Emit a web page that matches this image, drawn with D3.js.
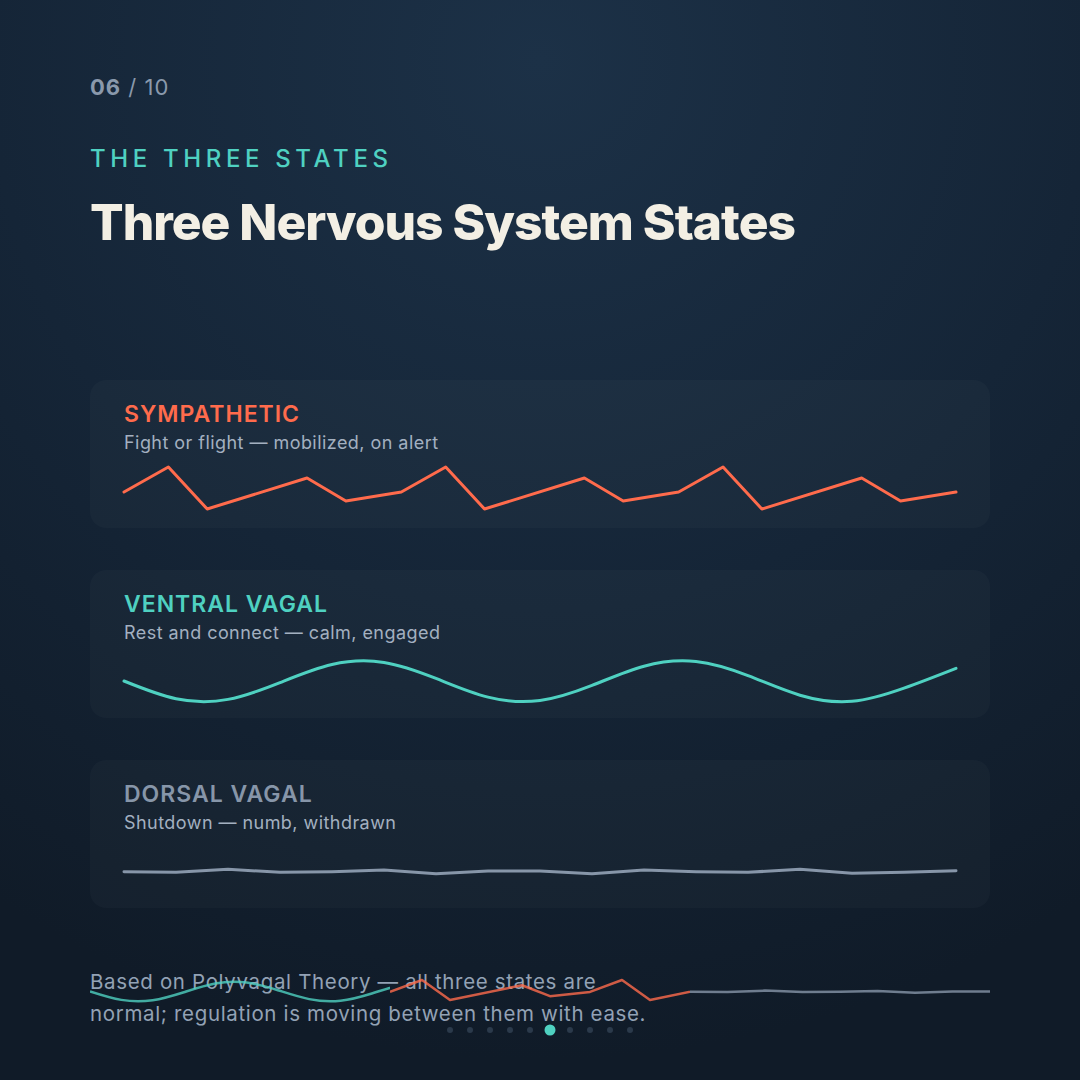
<!DOCTYPE html>
<html>
<head>
<meta charset="utf-8">
<script src="https://cdn.jsdelivr.net/npm/d3@7"></script>
<style>
	html, body { margin: 0; padding: 0; background: #121f2d; }
	svg { display: block; }
</style>
</head>
<body>
<svg id="chart" width="1080" height="1080"></svg>
<script>

// Slide content
var pageCurrent = '06';
var pageTotal = '10';
var kicker = 'THE THREE STATES';
var title = 'Three Nervous System States';
var footnote = ['Based on Polyvagal Theory — all three states are',
	'normal; regulation is moving between them with ease.'];

// The three states
var stateNames = ['SYMPATHETIC', 'VENTRAL VAGAL', 'DORSAL VAGAL'];
var stateNotes = ['Fight or flight — mobilized, on alert',
	'Rest and connect — calm, engaged',
	'Shutdown — numb, withdrawn'];
var stateColors = ['#ff6b4c', '#4fd1c1', '#8796a9'];

// Activation traces (0 - 50)
var sympatheticX = [0, 16, 30, 66, 80, 100, 116, 130, 166, 180, 200, 216, 230, 266, 280, 300];
var sympatheticValues = [23, 48, 6, 37, 14, 23, 48, 6, 37, 14, 23, 48, 6, 37, 14, 23];
var ventralValues = [24, 6.3, 5.6, 22.4, 40.5, 42.6, 26.6, 7.9, 4.5, 19.6, 38.8, 43.5, 29.4, 9.8, 3.7, 16.9, 36.7];
var dorsalValues = [23.3, 22.7, 25.7, 22.7, 23.3, 25, 21.3, 24, 24, 21.3, 25, 23.3, 22.7, 25.7, 21.7, 22.7, 24.3];

// Pager
var pages = [1, 2, 3, 4, 5, 6, 7, 8, 9, 10];
var activePage = 6;

var svg = d3.select('#chart');
var defs = svg.append('defs');

// Background
var bg = defs.append('radialGradient')
	.attr('id', 'bg')
	.attr('gradientUnits', 'userSpaceOnUse')
	.attr('cx', 540).attr('cy', 60).attr('r', 1000);
bg.append('stop').attr('offset', '0%').attr('stop-color', '#1c3147');
bg.append('stop').attr('offset', '55%').attr('stop-color', '#152537');
bg.append('stop').attr('offset', '100%').attr('stop-color', '#101b28');

svg.append('rect')
	.attr('width', 1080).attr('height', 1080)
	.attr('fill', 'url(#bg)');

// Header
var pager = svg.append('text')
	.attr('x', 90).attr('y', 95)
	.style('font-family', 'Inter, sans-serif')
	.style('font-size', '22px')
	.style('letter-spacing', '1px')
	.style('fill', '#8a99ac');
pager.append('tspan').style('font-weight', 700).text(pageCurrent);
pager.append('tspan').style('font-weight', 400).text(' / ' + pageTotal);

svg.append('text')
	.attr('x', 90).attr('y', 167)
	.attr('textLength', 302).attr('lengthAdjust', 'spacing')
	.style('font-family', 'Inter, sans-serif')
	.style('font-size', '24px')
	.style('font-weight', 500)
	.style('letter-spacing', '4px')
	.style('fill', '#4fd1c1')
	.text(kicker);

svg.append('text')
	.attr('x', 90).attr('y', 240)
	.attr('textLength', 705).attr('lengthAdjust', 'spacingAndGlyphs')
	.style('font-family', 'Inter, sans-serif')
	.style('font-size', '50px')
	.style('font-weight', 800)
	.style('letter-spacing', '-1px')
	.style('fill', '#f3efe4')
	.text(title);

// Cards
var cardTops = [380, 570, 760];
var series = [
	{ x: sympatheticX, y: sympatheticValues, curve: d3.curveLinear },
	{ x: d3.range(ventralValues.length), y: ventralValues, curve: d3.curveNatural },
	{ x: d3.range(dorsalValues.length), y: dorsalValues, curve: d3.curveLinear }
];

var cards = svg.selectAll('.card')
	.data(stateNames)
	.enter()
	.append('g')
	.attr('class', 'card')
	.attr('transform', function(d, i) { return 'translate(90,' + cardTops[i] + ')'; });

cards.append('rect')
	.attr('width', 900).attr('height', 148)
	.attr('rx', 16)
	.attr('fill', '#ffffff')
	.attr('fill-opacity', 0.025);

cards.append('text')
	.attr('x', 34).attr('y', 42)
	.style('font-family', 'Inter, sans-serif')
	.style('font-size', '23px')
	.style('font-weight', 600)
	.style('letter-spacing', '1px')
	.style('fill', function(d, i) { return stateColors[i]; })
	.text(function(d) { return d; });

cards.append('text')
	.attr('x', 34).attr('y', 69)
	.style('font-family', 'Inter, sans-serif')
	.style('font-size', '18px')
	.style('letter-spacing', '0.45px')
	.style('fill', '#a3b0c0')
	.text(function(d, i) { return stateNotes[i]; });

// Card traces
var cardY = d3.scaleLinear().domain([0, 50]).range([135, 85]);

cards.each(function(d, i) {
	var s = series[i];
	var x = d3.scaleLinear().domain(d3.extent(s.x)).range([34, 866]);
	var line = d3.line()
		.x(function(p) { return x(s.x[p]); })
		.y(function(p) { return cardY(s.y[p]); })
		.curve(s.curve);

	d3.select(this).append('path')
		.attr('d', line(d3.range(s.y.length)))
		.attr('fill', 'none')
		.attr('stroke', stateColors[i])
		.attr('stroke-width', 3)
		.attr('stroke-linejoin', 'round')
		.attr('stroke-linecap', 'round');
});

// Footnote
svg.selectAll('.footnote')
	.data(footnote)
	.enter()
	.append('text')
	.attr('class', 'footnote')
	.attr('x', 90)
	.attr('y', function(d, i) { return 989 + i * 32; })
	.style('font-family', 'Inter, sans-serif')
	.style('font-size', '20.5px')
	.style('letter-spacing', '0.65px')
	.style('fill', '#93a2b5')
	.text(function(d) { return d; });

// Transition strip: ventral -> sympathetic -> dorsal
var stripY = d3.scaleLinear().domain([0, 50]).range([1002.9, 979]);
var strip = [
	{ s: series[1], color: stateColors[1], x0: 90, domain: [0, 16], range: [90, 591] },
	{ s: series[0], color: stateColors[0], x0: 390, domain: [0, 150], range: [390, 690] },
	{ s: series[2], color: stateColors[2], x0: 690, domain: [0, 8], range: [690, 990] }
];

strip.forEach(function(seg, k) {
	defs.append('clipPath')
		.attr('id', 'strip' + k)
		.append('rect')
		.attr('x', seg.x0).attr('y', 960)
		.attr('width', 300).attr('height', 60);

	var x = d3.scaleLinear().domain(seg.domain).range(seg.range);
	var line = d3.line()
		.x(function(p) { return x(seg.s.x[p]); })
		.y(function(p) { return stripY(seg.s.y[p]); })
		.curve(seg.s.curve);

	svg.append('path')
		.attr('clip-path', 'url(#strip' + k + ')')
		.attr('d', line(d3.range(seg.s.y.length)))
		.attr('fill', 'none')
		.attr('stroke', seg.color)
		.attr('stroke-opacity', 0.8)
		.attr('stroke-width', 2.5)
		.attr('stroke-linejoin', 'round');
});

// Pager dots
var dotX = d3.scalePoint().domain(pages).range([450, 630]);

svg.selectAll('.dot')
	.data(pages)
	.enter()
	.append('circle')
	.attr('class', 'dot')
	.attr('cx', function(d) { return dotX(d); })
	.attr('cy', 1030)
	.attr('r', function(d) { return d == activePage ? 5.5 : 3; })
	.attr('fill', function(d) { return d == activePage ? '#4fd1c1' : '#2b3a4b'; });

</script>
</body>
</html>
